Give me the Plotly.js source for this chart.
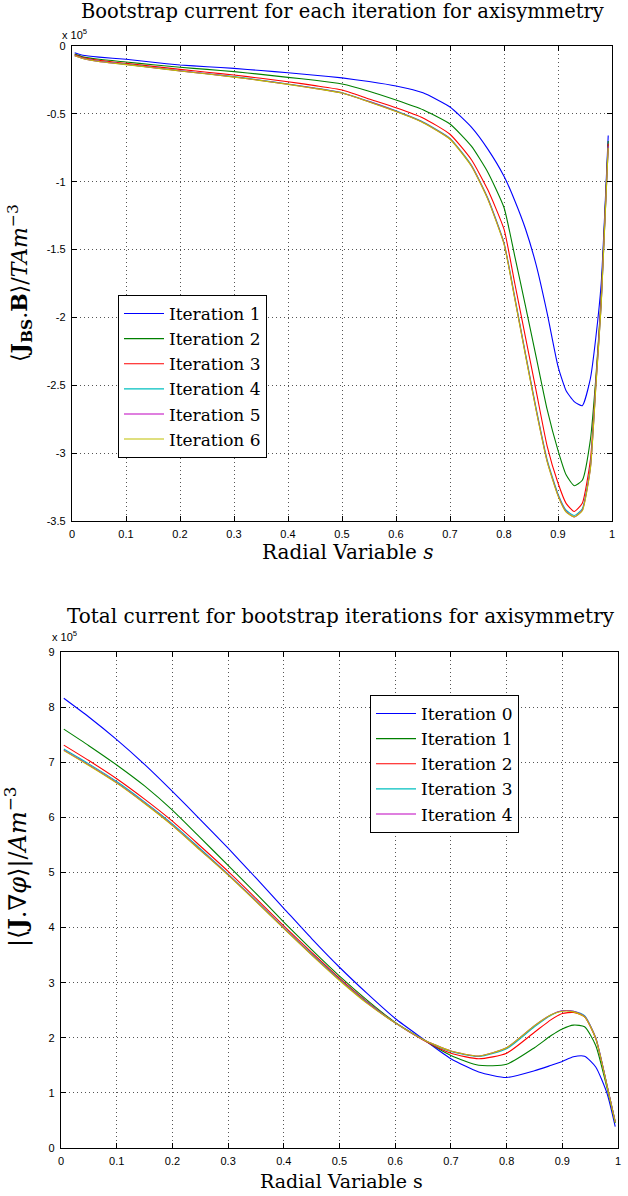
<!DOCTYPE html>
<html><head><meta charset="utf-8">
<script src="https://cdn.plot.ly/plotly-3.0.1.min.js"></script>
<style>html,body{margin:0;padding:0;background:#fff}#chart{width:628px;height:1196px}</style>
</head><body><div id="chart"></div>
<script>
// ---------- Top chart data (values in units of 1e5) ----------
const sTop = [0.005,0.02,0.05,0.1,0.15,0.2,0.25,0.3,0.35,0.4,0.45,0.5,0.55,0.6,0.65,0.7,0.74,0.77,0.8,0.82,0.84,0.86,0.88,0.9,0.915,0.93,0.945,0.96,0.97,0.98,0.993];
const bsIter1 = [-0.05,-0.068,-0.082,-0.098,-0.12,-0.14,-0.153,-0.165,-0.181,-0.197,-0.215,-0.235,-0.262,-0.295,-0.345,-0.45,-0.6,-0.76,-0.96,-1.14,-1.35,-1.62,-1.97,-2.36,-2.54,-2.62,-2.65,-2.45,-2.15,-1.75,-0.66];
const bsIter2 = [-0.06,-0.08,-0.098,-0.118,-0.138,-0.157,-0.172,-0.189,-0.209,-0.231,-0.252,-0.28,-0.333,-0.398,-0.47,-0.575,-0.74,-0.93,-1.19,-1.55,-1.92,-2.3,-2.68,-2.98,-3.16,-3.24,-3.2,-2.9,-2.45,-1.85,-0.7];
const bsIter3 = [-0.065,-0.085,-0.105,-0.128,-0.15,-0.172,-0.193,-0.214,-0.238,-0.263,-0.292,-0.324,-0.39,-0.455,-0.53,-0.65,-0.84,-1.06,-1.35,-1.75,-2.15,-2.55,-2.95,-3.22,-3.37,-3.43,-3.37,-3.05,-2.48,-1.87,-0.72];
const bsIter4 = [-0.07,-0.09,-0.112,-0.135,-0.158,-0.182,-0.204,-0.226,-0.252,-0.28,-0.31,-0.344,-0.408,-0.478,-0.56,-0.68,-0.88,-1.12,-1.45,-1.85,-2.27,-2.68,-3.05,-3.3,-3.42,-3.46,-3.41,-3.1,-2.5,-1.9,-0.74];
const bsIter5 = [-0.071,-0.091,-0.113,-0.136,-0.159,-0.183,-0.205,-0.228,-0.254,-0.282,-0.312,-0.346,-0.41,-0.481,-0.563,-0.684,-0.885,-1.125,-1.455,-1.86,-2.28,-2.69,-3.06,-3.31,-3.43,-3.47,-3.42,-3.11,-2.51,-1.9,-0.74];
const bsIter6 = [-0.072,-0.092,-0.114,-0.137,-0.16,-0.184,-0.206,-0.229,-0.255,-0.283,-0.313,-0.347,-0.412,-0.483,-0.565,-0.687,-0.888,-1.13,-1.46,-1.865,-2.285,-2.695,-3.065,-3.315,-3.435,-3.47,-3.425,-3.115,-2.52,-1.91,-0.75];
const topNames = ["Iteration 1","Iteration 2","Iteration 3","Iteration 4","Iteration 5","Iteration 6"];

// ---------- Bottom chart data (values in units of 1e5) ----------
const sBot = [0.005,0.05,0.1,0.15,0.2,0.25,0.3,0.35,0.4,0.45,0.5,0.55,0.6,0.65,0.7,0.75,0.8,0.85,0.88,0.9,0.92,0.94,0.96,0.98,0.995];
const totIter0 = [8.16,7.82,7.41,6.96,6.47,5.96,5.44,4.9,4.35,3.8,3.28,2.8,2.35,1.98,1.62,1.38,1.28,1.4,1.5,1.57,1.655,1.665,1.47,1.0,0.39];
const totIter1 = [7.6,7.3,6.95,6.57,6.13,5.63,5.13,4.62,4.1,3.6,3.12,2.68,2.28,1.97,1.68,1.5,1.52,1.82,2.04,2.16,2.23,2.2,1.86,1.1,0.45];
const totIter2 = [7.31,7.03,6.7,6.33,5.93,5.48,5.02,4.53,4.03,3.55,3.08,2.65,2.27,1.96,1.72,1.62,1.72,2.1,2.33,2.44,2.46,2.38,1.98,1.15,0.47];
const totIter3 = [7.24,6.97,6.65,6.28,5.88,5.43,4.97,4.49,4.0,3.52,3.06,2.64,2.27,1.97,1.75,1.66,1.8,2.2,2.41,2.49,2.48,2.4,2.0,1.15,0.48];
const totIter4 = [7.22,6.95,6.63,6.26,5.86,5.41,4.96,4.48,3.99,3.51,3.05,2.63,2.27,1.97,1.76,1.67,1.82,2.22,2.42,2.49,2.48,2.39,2.0,1.15,0.48];
const totIter5 = [7.21,6.94,6.62,6.25,5.85,5.4,4.95,4.47,3.98,3.5,3.04,2.62,2.27,1.97,1.76,1.67,1.82,2.22,2.42,2.48,2.47,2.38,1.99,1.14,0.47];
const botNames = ["Iteration 0","Iteration 1","Iteration 2","Iteration 3","Iteration 4","Iteration 5"];

const colors = ["#0000ff","#008000","#ff0000","#00bfbf","#bf00bf","#bfbf00"];

const xTicks = [0,0.1,0.2,0.3,0.4,0.5,0.6,0.7,0.8,0.9,1];
const xTickText = ["0","0.1","0.2","0.3","0.4","0.5","0.6","0.7","0.8","0.9","1"];
const yTopTicks = [0,-0.5,-1,-1.5,-2,-2.5,-3,-3.5];
const yTopText = ["0","-0.5","-1","-1.5","-2","-2.5","-3","-3.5"];
const yBotTicks = [0,1,2,3,4,5,6,7,8,9];
const yBotText = ["0","1","2","3","4","5","6","7","8","9"];

const topSeries = [bsIter1,bsIter2,bsIter3,bsIter4,bsIter5,bsIter6];
const botSeries = [totIter0,totIter1,totIter2,totIter3,totIter4,totIter5];

const traces = [];
topSeries.forEach((v,i)=>traces.push({x:sTop,y:v,type:'scatter',mode:'lines',name:topNames[i],
  line:{color:colors[i],width:1.1,shape:'spline',smoothing:0.5},xaxis:'x',yaxis:'y',legend:'legend'}));
botSeries.forEach((v,i)=>traces.push({x:sBot,y:v,type:'scatter',mode:'lines',name:botNames[i],
  line:{color:colors[i],width:1.1,shape:'spline',smoothing:0.6},xaxis:'x2',yaxis:'y2',legend:'legend2',
  showlegend:i<5}));

const W=628,H=1196;
const sans='Liberation Sans, Arial, sans-serif';
const tickFont={family:sans,size:11,color:'#000'};
const serif='DejaVu Serif, serif';
function ax(extra){return Object.assign({showline:true,linecolor:'#000',linewidth:1.2,mirror:'ticks',
  ticks:'inside',ticklen:5,tickcolor:'#000',tickmode:'array',showgrid:true,gridcolor:'#555',
  griddash:'1px,3px',gridwidth:1,zeroline:false,tickfont:tickFont,fixedrange:true,ticklabelstandoff:3},extra);}

const layout={
  width:W,height:H,margin:{l:0,r:0,t:0,b:0},paper_bgcolor:'#fff',plot_bgcolor:'#fff',showlegend:true,
  xaxis:ax({domain:[72/W,612/W],range:[0,1],tickvals:xTicks,ticktext:xTickText,anchor:'y'}),
  yaxis:ax({domain:[1-521/H,1-46/H],range:[-3.5,0],tickvals:yTopTicks,ticktext:yTopText,anchor:'x'}),
  xaxis2:ax({domain:[61/W,618/W],range:[0,1],tickvals:xTicks,ticktext:xTickText,anchor:'y2'}),
  yaxis2:ax({domain:[1-1148/H,1-652/H],range:[0,9],tickvals:yBotTicks,ticktext:yBotText,anchor:'x2'}),
  legend:{x:118/W,y:1-295/H,xanchor:'left',yanchor:'top',bgcolor:'#fff',bordercolor:'#000',borderwidth:1,
    font:{family:serif,size:17,color:'#000'},tracegroupgap:0,itemwidth:40},
  legend2:{x:370/W,y:1-695/H,xanchor:'left',yanchor:'top',bgcolor:'#fff',bordercolor:'#000',borderwidth:1,
    font:{family:serif,size:17,color:'#000'},tracegroupgap:0,itemwidth:40},
  annotations:[
    {text:'Bootstrap current for each iteration for axisymmetry',x:342/W,y:1-11/H,xref:'paper',yref:'paper',
      showarrow:false,xanchor:'center',yanchor:'middle',font:{family:serif,size:19.5,color:'#000'}},
    {text:'Total current for bootstrap iterations for axisymmetry',x:341/W,y:1-616/H,xref:'paper',yref:'paper',
      showarrow:false,xanchor:'center',yanchor:'middle',font:{family:serif,size:20,color:'#000'}},
    {text:'Radial Variable <i>s</i>',x:347/W,y:1-552/H,xref:'paper',yref:'paper',showarrow:false,
      xanchor:'center',yanchor:'middle',font:{family:serif,size:20,color:'#000'}},
    {text:'Radial Variable s',x:341/W,y:1-1181/H,xref:'paper',yref:'paper',showarrow:false,
      xanchor:'center',yanchor:'middle',font:{family:serif,size:19,color:'#000'}},
    {text:'⟨<b>J</b><sub><b>BS</b></sub>.<b>B</b>⟩/<i>TAm</i><sup>−3</sup>',x:20/W,y:1-283/H,xref:'paper',yref:'paper',
      showarrow:false,textangle:-90,xanchor:'center',yanchor:'middle',font:{family:serif,size:22,color:'#000'}},
    {text:'|⟨<b>J</b>.∇<i>φ</i>⟩|/<i>Am</i><sup>−3</sup>',x:16/W,y:1-867/H,xref:'paper',yref:'paper',
      showarrow:false,textangle:-90,xanchor:'center',yanchor:'middle',font:{family:serif,size:24,color:'#000'}},
    {text:'x 10<sup>5</sup>',x:60/W,y:1-34/H,xref:'paper',yref:'paper',showarrow:false,xanchor:'left',yanchor:'middle',
      font:{family:sans,size:11,color:'#000'}},
    {text:'x 10<sup>5</sup>',x:50/W,y:1-636/H,xref:'paper',yref:'paper',showarrow:false,xanchor:'left',yanchor:'middle',
      font:{family:sans,size:11,color:'#000'}}
  ]
};
Plotly.newPlot('chart',traces,layout,{staticPlot:true,displayModeBar:false});
</script></body></html>
